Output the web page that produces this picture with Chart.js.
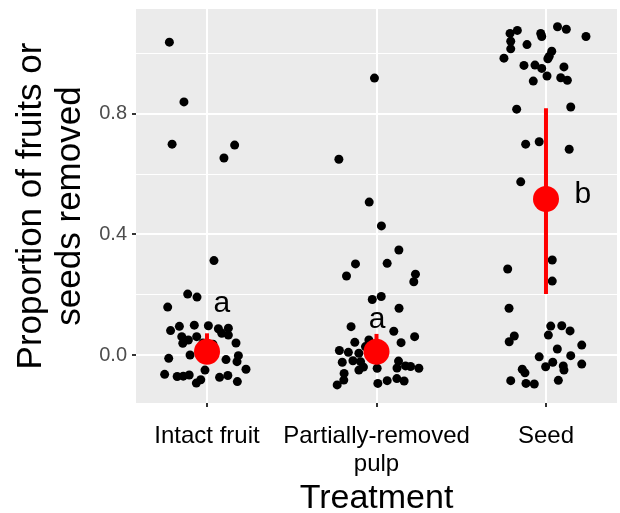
<!DOCTYPE html>
<html>
<head>
<meta charset="utf-8">
<script src="https://cdn.jsdelivr.net/npm/chart.js@4"></script>
<style>
  html, body { margin: 0; padding: 0; background: #fff; overflow: hidden; }
  canvas { display: block; }
</style>
</head>
<body>
<canvas id="myChart" width="620" height="513"></canvas>
<script>
// categories on the x axis (position 1, 2, 3)
const categories = ['Intact fruit', ['Partially-removed', 'pulp'], 'Seed'];

// jittered raw points
const intactX = [0.778, 0.864, 0.794, 1.163, 1.100, 1.041, 0.886, 0.941, 0.768, 0.785, 0.837, 0.925, 1.008, 1.067, 1.126, 0.851, 0.890, 0.857, 1.126, 1.171, 0.939, 1.087, 0.900, 0.774, 1.112, 1.185, 1.177, 0.988, 0.750, 0.824, 0.860, 0.895, 0.963, 0.937, 1.074, 1.123, 1.230, 1.179, 0.976, 1.035];
const intactY = [1.037, 0.839, 0.699, 0.696, 0.653, 0.313, 0.202, 0.192, 0.159, 0.081, 0.095, 0.099, 0.097, 0.087, 0.089, 0.061, 0.050, 0.039, 0.066, 0.040, 0.061, 0.072, 0.000, -0.011, -0.015, -0.002, -0.022, -0.050, -0.064, -0.071, -0.070, -0.066, -0.082, -0.093, -0.074, -0.068, -0.047, -0.088, 0.040, 0.036];

const pulpX = [1.988, 1.778, 1.957, 2.029, 2.132, 1.876, 2.063, 1.823, 2.230, 2.220, 1.975, 2.028, 2.133, 1.850, 2.102, 2.225, 1.872, 2.145, 1.955, 1.781, 1.834, 1.896, 1.935, 1.798, 1.861, 1.906, 1.896, 1.809, 1.807, 1.768, 2.004, 2.130, 2.121, 2.171, 2.201, 2.250, 2.008, 2.063, 2.120, 2.163, 1.923];
const pulpY = [0.918, 0.649, 0.507, 0.428, 0.348, 0.302, 0.304, 0.262, 0.268, 0.243, 0.184, 0.194, 0.155, 0.094, 0.079, 0.061, 0.042, 0.041, 0.050, 0.015, 0.009, 0.006, 0.028, -0.024, -0.019, -0.022, -0.050, -0.061, -0.083, -0.099, -0.044, -0.020, -0.043, -0.036, -0.038, -0.044, -0.094, -0.085, -0.078, -0.086, -0.040];

const seedX = [2.788, 2.831, 2.792, 2.792, 2.752, 2.888, 2.969, 2.975, 3.068, 3.120, 3.236, 3.034, 3.019, 3.011, 2.870, 2.935, 2.975, 3.006, 3.106, 3.087, 3.126, 2.925, 2.827, 3.146, 2.880, 2.960, 3.137, 2.851, 3.037, 2.774, 3.037, 2.782, 3.028, 3.093, 3.142, 3.014, 2.813, 2.783, 3.211, 3.067, 2.960, 3.146, 3.040, 2.998, 3.102, 3.106, 3.211, 2.860, 2.876, 2.792, 2.882, 2.931, 3.073];
const seedY = [1.066, 1.076, 1.040, 1.015, 0.984, 1.029, 1.066, 1.056, 1.088, 1.080, 1.056, 1.007, 0.990, 0.982, 0.960, 0.961, 0.950, 0.925, 0.955, 0.919, 0.911, 0.908, 0.815, 0.822, 0.699, 0.707, 0.682, 0.574, 0.315, 0.285, 0.245, 0.155, 0.096, 0.097, 0.080, 0.066, 0.063, 0.044, 0.033, 0.020, -0.006, -0.002, -0.024, -0.039, -0.036, -0.050, -0.030, -0.047, -0.059, -0.085, -0.094, -0.096, -0.084];

// group means and error bars
const meanY = [0.011, 0.011, 0.517];
const lowerY = [0.0, 0.0, 0.202];
const upperY = [0.072, 0.070, 0.818];

// significance letters
const letters = ['a', 'a', 'b'];
const letterX = [1.087, 2.004, 3.218];
const letterY = [0.1435, 0.0905, 0.504];

// y ticks (major ones get labels)
const yTicks = [0, 0.2, 0.4, 0.6, 0.8, 1.0];
const yMajor = [0, 0.4, 0.8];

const FONT = '"Liberation Sans", Arial, Helvetica, sans-serif';
Chart.defaults.font.family = FONT;

function zip(xs, ys) {
    return xs.map((x, i) => ({ x: x, y: ys[i] }));
}

// fond gris du panneau
const panelBg = {
    id: 'panelBg',
    beforeDraw(chart) {
        const { ctx, chartArea } = chart;
        ctx.save();
        ctx.fillStyle = '#EBEBEB';
        ctx.fillRect(chartArea.left, chartArea.top, chartArea.right - chartArea.left, chartArea.bottom - chartArea.top);
        ctx.restore();
    }
};

// lettres a / a / b
const letterLabels = {
    id: 'letterLabels',
    afterDatasetsDraw(chart) {
        const { ctx, scales } = chart;
        ctx.save();
        ctx.font = '30px ' + FONT;
        ctx.fillStyle = '#000';
        ctx.textAlign = 'center';
        ctx.textBaseline = 'alphabetic';
        letters.forEach((t, i) => {
            ctx.fillText(t, scales.x.getPixelForValue(letterX[i]), scales.y.getPixelForValue(letterY[i]));
        });
        ctx.restore();
    }
};

let datasets = [];
datasets.push({
    label: 'mean',
    data: meanY.map((y, i) => ({ x: i + 1, y: y })),
    backgroundColor: '#FF0000',
    borderWidth: 0,
    pointRadius: 13,
    order: 0
});
for (let i = 0; i < meanY.length; i++) {
    datasets.push({
        label: 'err' + i,
        data: [{ x: i + 1, y: lowerY[i] }, { x: i + 1, y: upperY[i] }],
        showLine: true,
        borderColor: '#FF0000',
        borderWidth: 4,
        pointRadius: 0,
        order: 1
    });
}
[zip(intactX, intactY), zip(pulpX, pulpY), zip(seedX, seedY)].forEach((pts, i) => {
    datasets.push({
        label: 'pts' + i,
        data: pts,
        backgroundColor: '#000000',
        borderWidth: 0,
        pointRadius: 4.5,
        order: 2
    });
});

const isMajor = (v) => yMajor.includes(v);

const ctx = document.getElementById('myChart').getContext('2d');
const myChart = new Chart(ctx, {
    type: 'scatter',
    data: { datasets: datasets },
    plugins: [panelBg, letterLabels],
    options: {
        responsive: false,
        animation: false,
        layout: { autoPadding: false, padding: { top: 9, right: 3, left: 0, bottom: 0 } },
        plugins: {
            legend: { display: false },
            tooltip: { enabled: false }
        },
        scales: {
            x: {
                type: 'linear',
                min: 0.581,
                max: 3.419,
                afterBuildTicks: (s) => { s.ticks = [1, 2, 3].map(v => ({ value: v })); },
                afterFit: (s) => { s.height = 110; s.paddingLeft = 0; s.paddingRight = 0; },
                border: { display: false },
                grid: { color: '#FFFFFF', lineWidth: 2, tickColor: '#333333', tickLength: 4, tickWidth: 2 },
                ticks: {
                    callback: (v) => categories[v - 1],
                    color: '#000000',
                    font: { size: 24, lineHeight: 1.15 },
                    padding: 16,
                    maxRotation: 0,
                    autoSkip: false
                },
                title: {
                    display: true,
                    text: 'Treatment',
                    color: '#000000',
                    font: { size: 34, lineHeight: 0.85 },
                    padding: 0
                }
            },
            y: {
                min: -0.159,
                max: 1.147,
                afterBuildTicks: (s) => { s.ticks = yTicks.map(v => ({ value: v })); },
                afterFit: (s) => { s.width = 136; s.paddingTop = 0; s.paddingBottom = 0; },
                border: { display: false },
                grid: {
                    color: '#FFFFFF',
                    lineWidth: (c) => isMajor(c.tick.value) ? 2 : 1,
                    tickColor: (c) => isMajor(c.tick.value) ? '#333333' : 'rgba(0,0,0,0)',
                    tickLength: 4,
                    tickWidth: 2
                },
                ticks: {
                    callback: (v) => isMajor(v) ? v.toFixed(1) : '',
                    color: '#4D4D4D',
                    font: { size: 20 },
                    padding: 5
                },
                title: {
                    display: true,
                    text: ['Proportion of fruits or', 'seeds removed'],
                    color: '#000000',
                    font: { size: 35, lineHeight: 1.12 },
                    padding: { top: 12, bottom: 0 }
                }
            }
        }
    }
});
</script>
</body>
</html>
